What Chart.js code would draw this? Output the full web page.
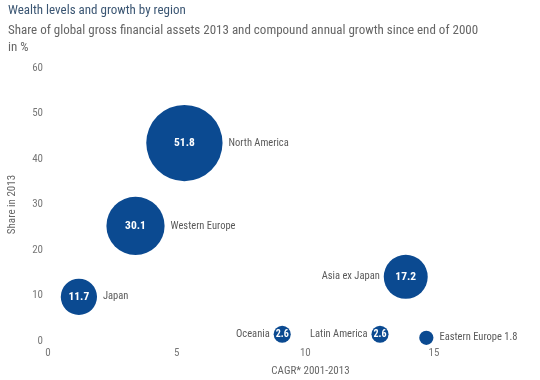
<!DOCTYPE html>
<html><head><meta charset="utf-8">
<script src="https://cdn.jsdelivr.net/npm/chart.js@4/dist/chart.umd.min.js"></script>
<style>
html,body{margin:0;padding:0;background:#fff;width:540px;height:380px;overflow:hidden;}
#wrap{position:relative;width:540px;height:380px;}
canvas{position:absolute;left:0;top:0;}
.t{position:absolute;left:8px;font-family:"Roboto Condensed",sans-serif;white-space:nowrap;}
#title{top:2px;font-size:13px;color:#3b5673;}
#sub{top:21px;font-size:13px;color:#666;line-height:17px;}
</style></head>
<body><div id="wrap">
<canvas id="c" width="540" height="380"></canvas>
<div class="t" id="title">Wealth levels and growth by region</div>
<div class="t" id="sub">Share of global gross financial assets 2013 and compound annual growth since end of 2000<br>in %</div>
</div>
<script>
// ---- data ----
const regions = ["North America","Western Europe","Japan","Asia ex Japan","Oceania","Latin America","Eastern Europe"];
const cagr = [5.3, 3.4, 1.2, 13.9, 9.1, 12.9, 14.7];          // x: CAGR 2001-2013
const share2013 = [43.5, 25.3, 9.7, 14.1, 1.5, 1.5, 0.7];     // y: share in 2013
const bubbleValues = [51.8, 30.1, 11.7, 17.2, 2.6, 2.6, 1.8]; // bubble labels
const xTickValues = [0, 5, 10, 15];
const yTickValues = [0, 10, 20, 30, 40, 50, 60];
const xAxisTitle = 'CAGR* 2001-2013';
const yAxisTitle = 'Share in 2013';

// ---- styles ----
const FONT = '"Roboto Condensed",sans-serif';
const BLUE = '#0b4a91';
const labelLeft = new Set(["Asia ex Japan","Oceania","Latin America"]);
const valueOutside = new Set(["Eastern Europe"]);
const radiusScale = 5.3;

const labelPlugin = {
  id: 'bubbleLabels',
  afterDatasetsDraw(chart) {
    const ctx = chart.ctx;
    const meta = chart.getDatasetMeta(0);
    ctx.save();
    meta.data.forEach((el, i) => {
      const name = regions[i];
      const v = bubbleValues[i];
      const r = el.options.radius;
      ctx.textBaseline = 'middle';
      let nameText = name;
      if (valueOutside.has(name)) {
        nameText = name + ' ' + v.toFixed(1);
      } else {
        ctx.fillStyle = '#ffffff';
        ctx.font = 'bold ' + (r < 12 ? 10 : 11.5) + 'px ' + FONT;
        ctx.textAlign = 'center';
        ctx.fillText(v.toFixed(1), el.x, el.y + 0.5);
      }
      ctx.fillStyle = '#5a5a5a';
      ctx.font = '10.5px ' + FONT;
      if (labelLeft.has(name)) {
        ctx.textAlign = 'right';
        ctx.fillText(nameText, el.x - r - 4, el.y);
      } else {
        ctx.textAlign = 'left';
        ctx.fillText(nameText, el.x + r + 6, el.y);
      }
    });
    // x-axis title, centred a little right of the plot centre as in the source
    const xs = chart.scales.x;
    ctx.fillStyle = '#666';
    ctx.font = '11px ' + FONT;
    ctx.textAlign = 'center';
    ctx.textBaseline = 'middle';
    ctx.fillText(xAxisTitle, xs.getPixelForValue(10.2), 371);
    ctx.restore();
  }
};

new Chart(document.getElementById('c'), {
  type: 'bubble',
  data: {
    datasets: [{
      data: regions.map((n, i) => ({x: cagr[i], y: share2013[i], v: bubbleValues[i]})),
      backgroundColor: BLUE,
      borderColor: BLUE,
      borderWidth: 0,
      clip: false,
      radius: (c) => radiusScale * Math.sqrt(bubbleValues[c.dataIndex]),
      hoverRadius: 0
    }]
  },
  options: {
    responsive: false,
    animation: false,
    events: [],
    layout: { autoPadding: false, padding: { left: 0, right: 3, top: 68, bottom: 0 } },
    plugins: { legend: { display: false }, tooltip: { enabled: false } },
    scales: {
      x: {
        type: 'linear', min: 0, max: 19,
        grid: { display: false, drawTicks: false, tickLength: 0 }, border: { display: false },
        afterBuildTicks: (s) => { s.ticks = xTickValues.map(v => ({value: v})); },
        afterFit: (s) => { s.height = 39; },
        ticks: { color: '#777', font: { family: FONT, size: 11 }, padding: 6, maxRotation: 0 },
        title: { display: false }
      },
      y: {
        type: 'linear', min: 0, max: 60,
        grid: { display: false, drawTicks: false, tickLength: 0 }, border: { display: false },
        afterBuildTicks: (s) => { s.ticks = yTickValues.map(v => ({value: v})); },
        afterFit: (s) => { s.width = 48; },
        ticks: { color: '#777', font: { family: FONT, size: 11 }, padding: 5 },
        title: { display: true, text: yAxisTitle, color: '#666', font: { family: FONT, size: 11 }, padding: { top: 6, bottom: 0 } }
      }
    }
  },
  plugins: [labelPlugin]
});
</script>
</body></html>
